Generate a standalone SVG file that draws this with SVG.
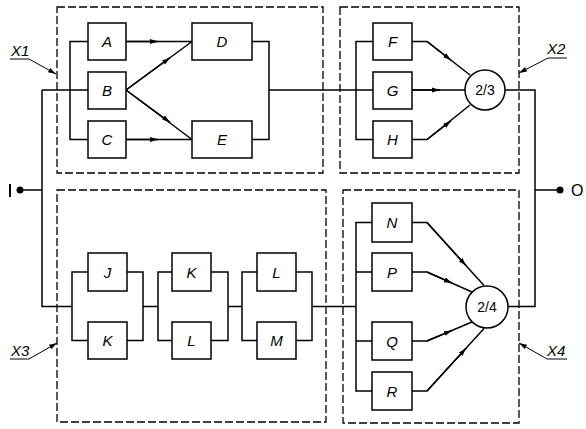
<svg xmlns="http://www.w3.org/2000/svg" width="586" height="429" viewBox="0 0 586 429">
<style>
.blk{fill:#fff;stroke:#000;stroke-width:1.5}
.grp{fill:none;stroke:#000;stroke-width:1.3;stroke-dasharray:8 3}
.w{fill:none;stroke:#000;stroke-width:1.5}
.lead{fill:none;stroke:#000;stroke-width:1}
.t{font-family:"Liberation Sans",Arial,sans-serif;font-size:15px;font-style:italic;text-anchor:middle}
.n{font-family:"Liberation Sans",Arial,sans-serif;font-size:14px;text-anchor:middle}
.lbl{font-family:"Liberation Sans",Arial,sans-serif;font-size:15px;font-style:italic}
</style>
<defs>
<marker id="ar" markerUnits="userSpaceOnUse" markerWidth="8" markerHeight="6" refX="8" refY="3" orient="auto">
<path d="M0,0.5 L8,3 L0,5.5 z" fill="#000"/>
</marker>
<marker id="la" markerUnits="userSpaceOnUse" markerWidth="8" markerHeight="6" refX="8" refY="3" orient="auto">
<path d="M0,0.5 L8,3 L0,5.5 z" fill="#000"/>
</marker>
</defs>
<g id="groups">
<rect class="grp" x="57" y="7" width="266" height="166"/>
<rect class="grp" x="340" y="7" width="179" height="166"/>
<rect class="grp" x="57" y="190" width="269" height="232"/>
<rect class="grp" x="343" y="190" width="176" height="233"/>
</g>
<g id="connectors">
<path class="w" d="M20,190 H42 M42,90 V306.5 H72 M42,90 H88"/>
<path class="w" d="M88,41.5 H70 V139.5 H88"/>
<path class="w" d="M126,41.5 H192 M126,139.5 H192 M126,90 L192,41.5 M126,90 L192,139.5"/>
<path class="w" marker-end="url(#ar)" d="M126,41.5 H158"/>
<path class="w" marker-end="url(#ar)" d="M126,139.5 H158"/>
<path class="w" marker-end="url(#ar)" d="M126,90 L170,57.7"/>
<path class="w" marker-end="url(#ar)" d="M126,90 L170,122.3"/>
<path class="w" d="M252,41.5 H269 V139.5 H252 M269,90 H373"/>
<path class="w" d="M373,41.5 H356 V139.5 H373"/>
<path class="w" d="M412,41.5 H427 L470,75 M412,139.5 H427 L470,105 M412,90 H465"/>
<path class="w" marker-end="url(#ar)" d="M427,41.5 L451,60.2"/>
<path class="w" marker-end="url(#ar)" d="M427,139.5 L451,120.8"/>
<path class="w" marker-end="url(#ar)" d="M412,90 H440"/>
<path class="w" d="M505,90 H535 V306.5 H508 M535,190 H560"/>
<path class="w" d="M88,272 H72 V340.5 H88 M127,272 H143 V340.5 H127 M143,306.5 H158"/>
<path class="w" d="M172,272 H158 V340.5 H172 M211,272 H228 V340.5 H211 M228,306.5 H242"/>
<path class="w" d="M257,272 H242 V340.5 H257 M296,272 H312 V340.5 H296 M312,306.5 H356"/>
<path class="w" d="M372,222.5 H356 V391 H372 M356,272 H372 M356,341 H372"/>
<path class="w" d="M412,222.5 H427 L484,285.5 M412,272 H427 L472,292 M412,341 H427 L472,322 M412,391 H427 L484,328.5"/>
<path class="w" marker-end="url(#ar)" d="M427,222.5 L466,265.6"/>
<path class="w" marker-end="url(#ar)" d="M427,272 L452,283.1"/>
<path class="w" marker-end="url(#ar)" d="M427,341 L452,330.4"/>
<path class="w" marker-end="url(#ar)" d="M427,391 L466,348.3"/>
<circle cx="20" cy="190" r="3.5" fill="#000"/>
<circle cx="560" cy="190" r="3.5" fill="#000"/>
<path class="w" style="stroke-width:2" d="M10,184 V197"/>
</g>
<g id="A"><rect class="blk" x="88" y="23" width="38" height="37"/><text class="t" x="107" y="47">A</text></g>
<g id="B"><rect class="blk" x="88" y="72" width="38" height="37"/><text class="t" x="107" y="95.5">B</text></g>
<g id="C"><rect class="blk" x="88" y="121" width="38" height="37"/><text class="t" x="107" y="145">C</text></g>
<g id="D"><rect class="blk" x="192" y="23" width="60" height="37"/><text class="t" x="222" y="47">D</text></g>
<g id="E"><rect class="blk" x="192" y="121" width="60" height="37"/><text class="t" x="222" y="145">E</text></g>
<g id="F"><rect class="blk" x="373" y="23" width="39" height="37"/><text class="t" x="392.5" y="47">F</text></g>
<g id="G"><rect class="blk" x="373" y="72" width="39" height="37"/><text class="t" x="392.5" y="95.5">G</text></g>
<g id="H"><rect class="blk" x="373" y="121" width="39" height="37"/><text class="t" x="392.5" y="145">H</text></g>
<g id="V23"><circle class="blk" cx="485" cy="90" r="20"/><text class="n" x="485" y="95">2/3</text></g>
<g id="J"><rect class="blk" x="88" y="253" width="39" height="38"/><text class="t" x="107.5" y="277.5">J</text></g>
<g id="K1"><rect class="blk" x="88" y="322" width="39" height="37"/><text class="t" x="107.5" y="346">K</text></g>
<g id="K2"><rect class="blk" x="172" y="253" width="39" height="38"/><text class="t" x="191.5" y="277.5">K</text></g>
<g id="L1"><rect class="blk" x="172" y="322" width="39" height="37"/><text class="t" x="191.5" y="346">L</text></g>
<g id="L2"><rect class="blk" x="257" y="253" width="39" height="38"/><text class="t" x="276.5" y="277.5">L</text></g>
<g id="M"><rect class="blk" x="257" y="322" width="39" height="37"/><text class="t" x="276.5" y="346">M</text></g>
<g id="N"><rect class="blk" x="372" y="203" width="40" height="39"/><text class="t" x="392" y="228">N</text></g>
<g id="P"><rect class="blk" x="372" y="253" width="40" height="38"/><text class="t" x="392" y="277.5">P</text></g>
<g id="Q"><rect class="blk" x="372" y="322" width="40" height="38"/><text class="t" x="392" y="346.5">Q</text></g>
<g id="R"><rect class="blk" x="372" y="372" width="40" height="38"/><text class="t" x="392" y="396.5">R</text></g>
<g id="V24"><circle class="blk" cx="487" cy="307" r="21"/><text class="n" x="487" y="312">2/4</text></g>
<g id="labels">
<text class="lbl" x="11" y="56">X1</text>
<path class="lead" marker-end="url(#la)" d="M10,59 H29 L56,74"/>
<text class="lbl" x="547" y="54">X2</text>
<path class="lead" marker-end="url(#la)" d="M567,58 H548 L519,73"/>
<text class="lbl" x="11" y="356">X3</text>
<path class="lead" marker-end="url(#la)" d="M10,359 H29 L57,343"/>
<text class="lbl" x="547" y="356">X4</text>
<path class="lead" marker-end="url(#la)" d="M567,359 H547 L519,343"/>
<text class="lbl" style="font-style:normal;font-size:16px" x="571" y="196">O</text>
</g>
</svg>
